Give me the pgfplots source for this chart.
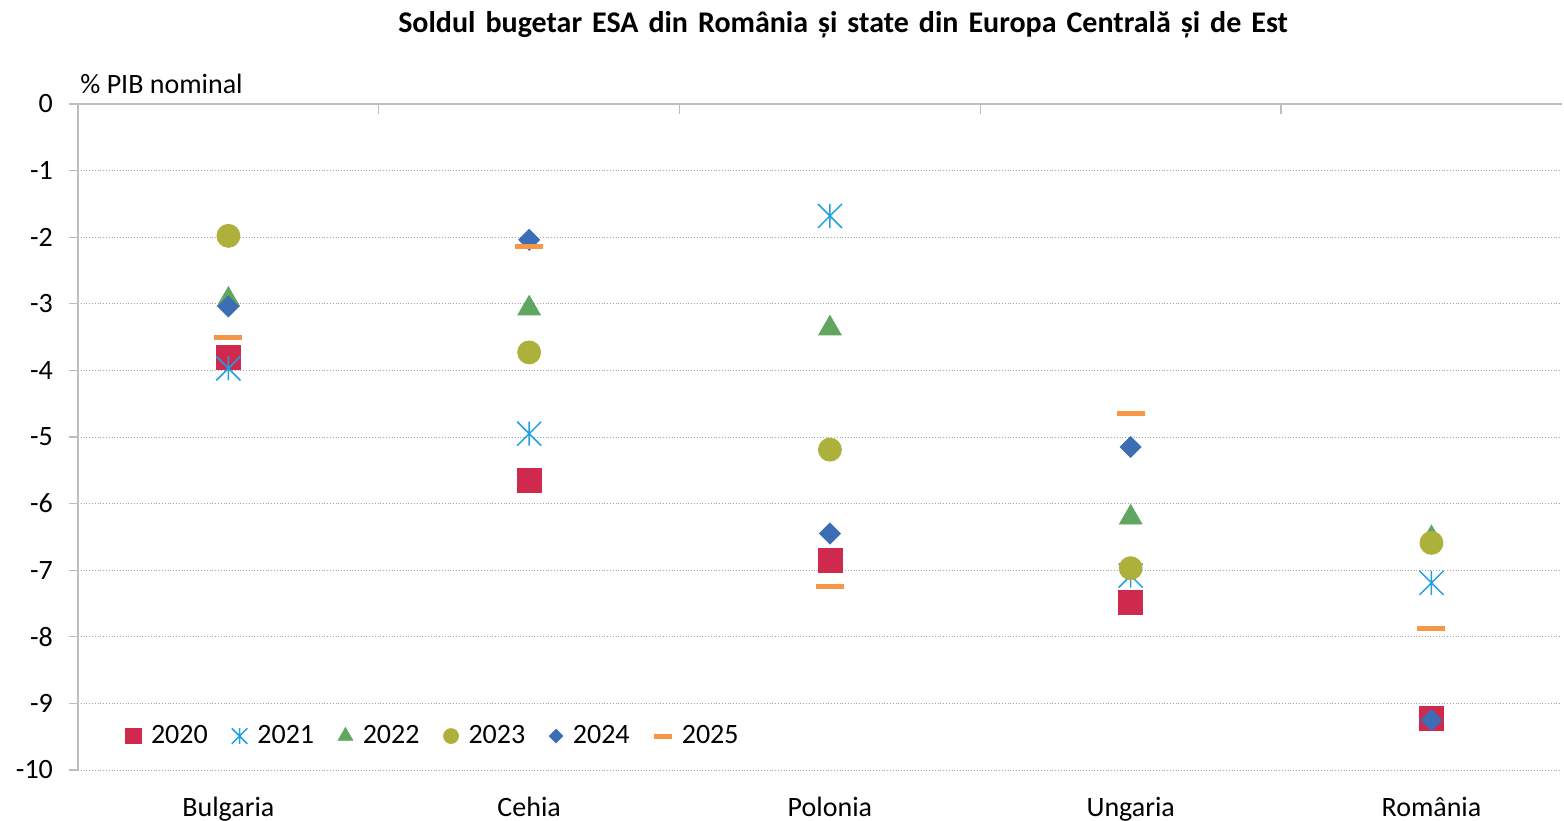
\documentclass[border=0pt]{standalone}
\usepackage{fontspec}
\setmainfont{Carlito}
\usepackage{pgfplots}
\pgfplotsset{compat=1.18}
\definecolor{c20}{RGB}{208,41,78}
\definecolor{c21}{RGB}{30,160,225}
\definecolor{c22}{RGB}{96,166,96}
\definecolor{c23}{RGB}{173,176,58}
\definecolor{c24}{RGB}{61,109,181}
\definecolor{c25}{RGB}{247,150,70}
\definecolor{gridc}{RGB}{165,165,165}
\definecolor{axc}{RGB}{190,190,190}
\pgfdeclareplotmark{xstar}{%
  \pgfpathmoveto{\pgfqpoint{-\pgfplotmarksize}{-\pgfplotmarksize}}%
  \pgfpathlineto{\pgfqpoint{\pgfplotmarksize}{\pgfplotmarksize}}%
  \pgfpathmoveto{\pgfqpoint{-\pgfplotmarksize}{\pgfplotmarksize}}%
  \pgfpathlineto{\pgfqpoint{\pgfplotmarksize}{-\pgfplotmarksize}}%
  \pgfpathmoveto{\pgfqpoint{0pt}{-\pgfplotmarksize}}%
  \pgfpathlineto{\pgfqpoint{0pt}{\pgfplotmarksize}}%
  \pgfusepathqstroke
}
\begin{document}
\begin{tikzpicture}
\path[use as bounding box] (0,0) rectangle (782pt,410pt);
\node[font=\bfseries\fontsize{15}{17}\selectfont, anchor=base, inner sep=0pt] at (421.5pt,393.5pt) {\spaceskip=5pt Soldul bugetar ESA din România și state din Europa Centrală și de Est};
\begin{axis}[
  at={(39pt,25pt)}, anchor=south west,
  scale only axis, width=742pt, height=333pt,
  xmin=-0.5, xmax=4.434, ymin=-10, ymax=0,
  clip=false,
  font=\fontsize{14}{16}\selectfont,
  /pgf/number format/assume math mode=true,
  axis line style={draw=none},
  xtick={0,1,2,3,4},
  xticklabels={Bulgaria,Cehia,Polonia,Ungaria,România},
  xtick pos=right, xticklabel pos=left,
  major x tick style={draw=none},
  minor xtick={0.5,1.5,2.5,3.5},
  minor x tick style={draw=axc, line width=0.6pt},
  minor tick length=5pt,
  xtick align=inside,
  xticklabel style={yshift=-10pt},
  ytick={0,-1,...,-10},
  ytick pos=left, ytick align=outside,
  major y tick style={draw=axc, line width=0.6pt},
  major tick length=4.5pt,
  yticklabel style={xshift=-4.5pt},
  ymajorgrids,
  major grid style={draw=gridc, densely dotted, line width=0.5pt},
  only marks,
  legend columns=6,
  legend cell align=left,
  legend style={at={(rel axis cs:0.0317,0.051)}, anchor=west, draw=none, fill=none, inner sep=0pt,
    font=\fontsize{14}{16}\selectfont,
    /tikz/every odd column/.append style={column sep=3pt},
    /tikz/every even column/.append style={column sep=10pt}},
  legend image code/.code={\draw[#1] plot coordinates {(0pt,0pt)};},
  legend image post style={/tikz/every mark/.append style={scale=0.65}},
]
\addplot[mark=square*, mark size=6pt, color=c20] coordinates {(0,-3.81) (1,-5.65) (2,-6.85) (3,-7.49) (4,-9.23)};
\addlegendentry{2020}
\addplot[mark=xstar, mark size=6pt, color=c21, line width=0.75pt] coordinates {(0,-3.97) (1,-4.95) (2,-1.68) (3,-7.08) (4,-7.19)};
\addlegendentry{2021}
\addplot[mark=triangle*, mark size=6.5pt, color=c22] coordinates {(0,-2.94) (1,-3.07) (2,-3.37) (3,-6.21) (4,-6.52)};
\addlegendentry{2022}
\addplot[mark=*, mark size=5.75pt, color=c23] coordinates {(0,-1.98) (1,-3.73) (2,-5.19) (3,-6.97) (4,-6.59)};
\addlegendentry{2023}
\addplot[mark=square*, mark size=3.7pt, mark options={rotate=45}, color=c24] coordinates {(0,-3.04) (1,-2.04) (2,-6.45) (3,-5.15) (4,-9.25)};
\addlegendentry{2024}
\addplot[mark=-, mark size=7pt, color=c25, line width=2.5pt] coordinates {(0,-3.51) (1,-2.14) (2,-7.24) (3,-4.65) (4,-7.87)};
\addlegendentry{2025}
\draw[axc, line width=0.6pt] (rel axis cs:0,0) -- (rel axis cs:0,1) -- (rel axis cs:1,1);
\node[anchor=base west, inner sep=0pt, font=\fontsize{14}{16}\selectfont] at ([xshift=1pt,yshift=5pt]rel axis cs:0,1) {\% PIB nominal};
\end{axis}
\end{tikzpicture}
\end{document}
